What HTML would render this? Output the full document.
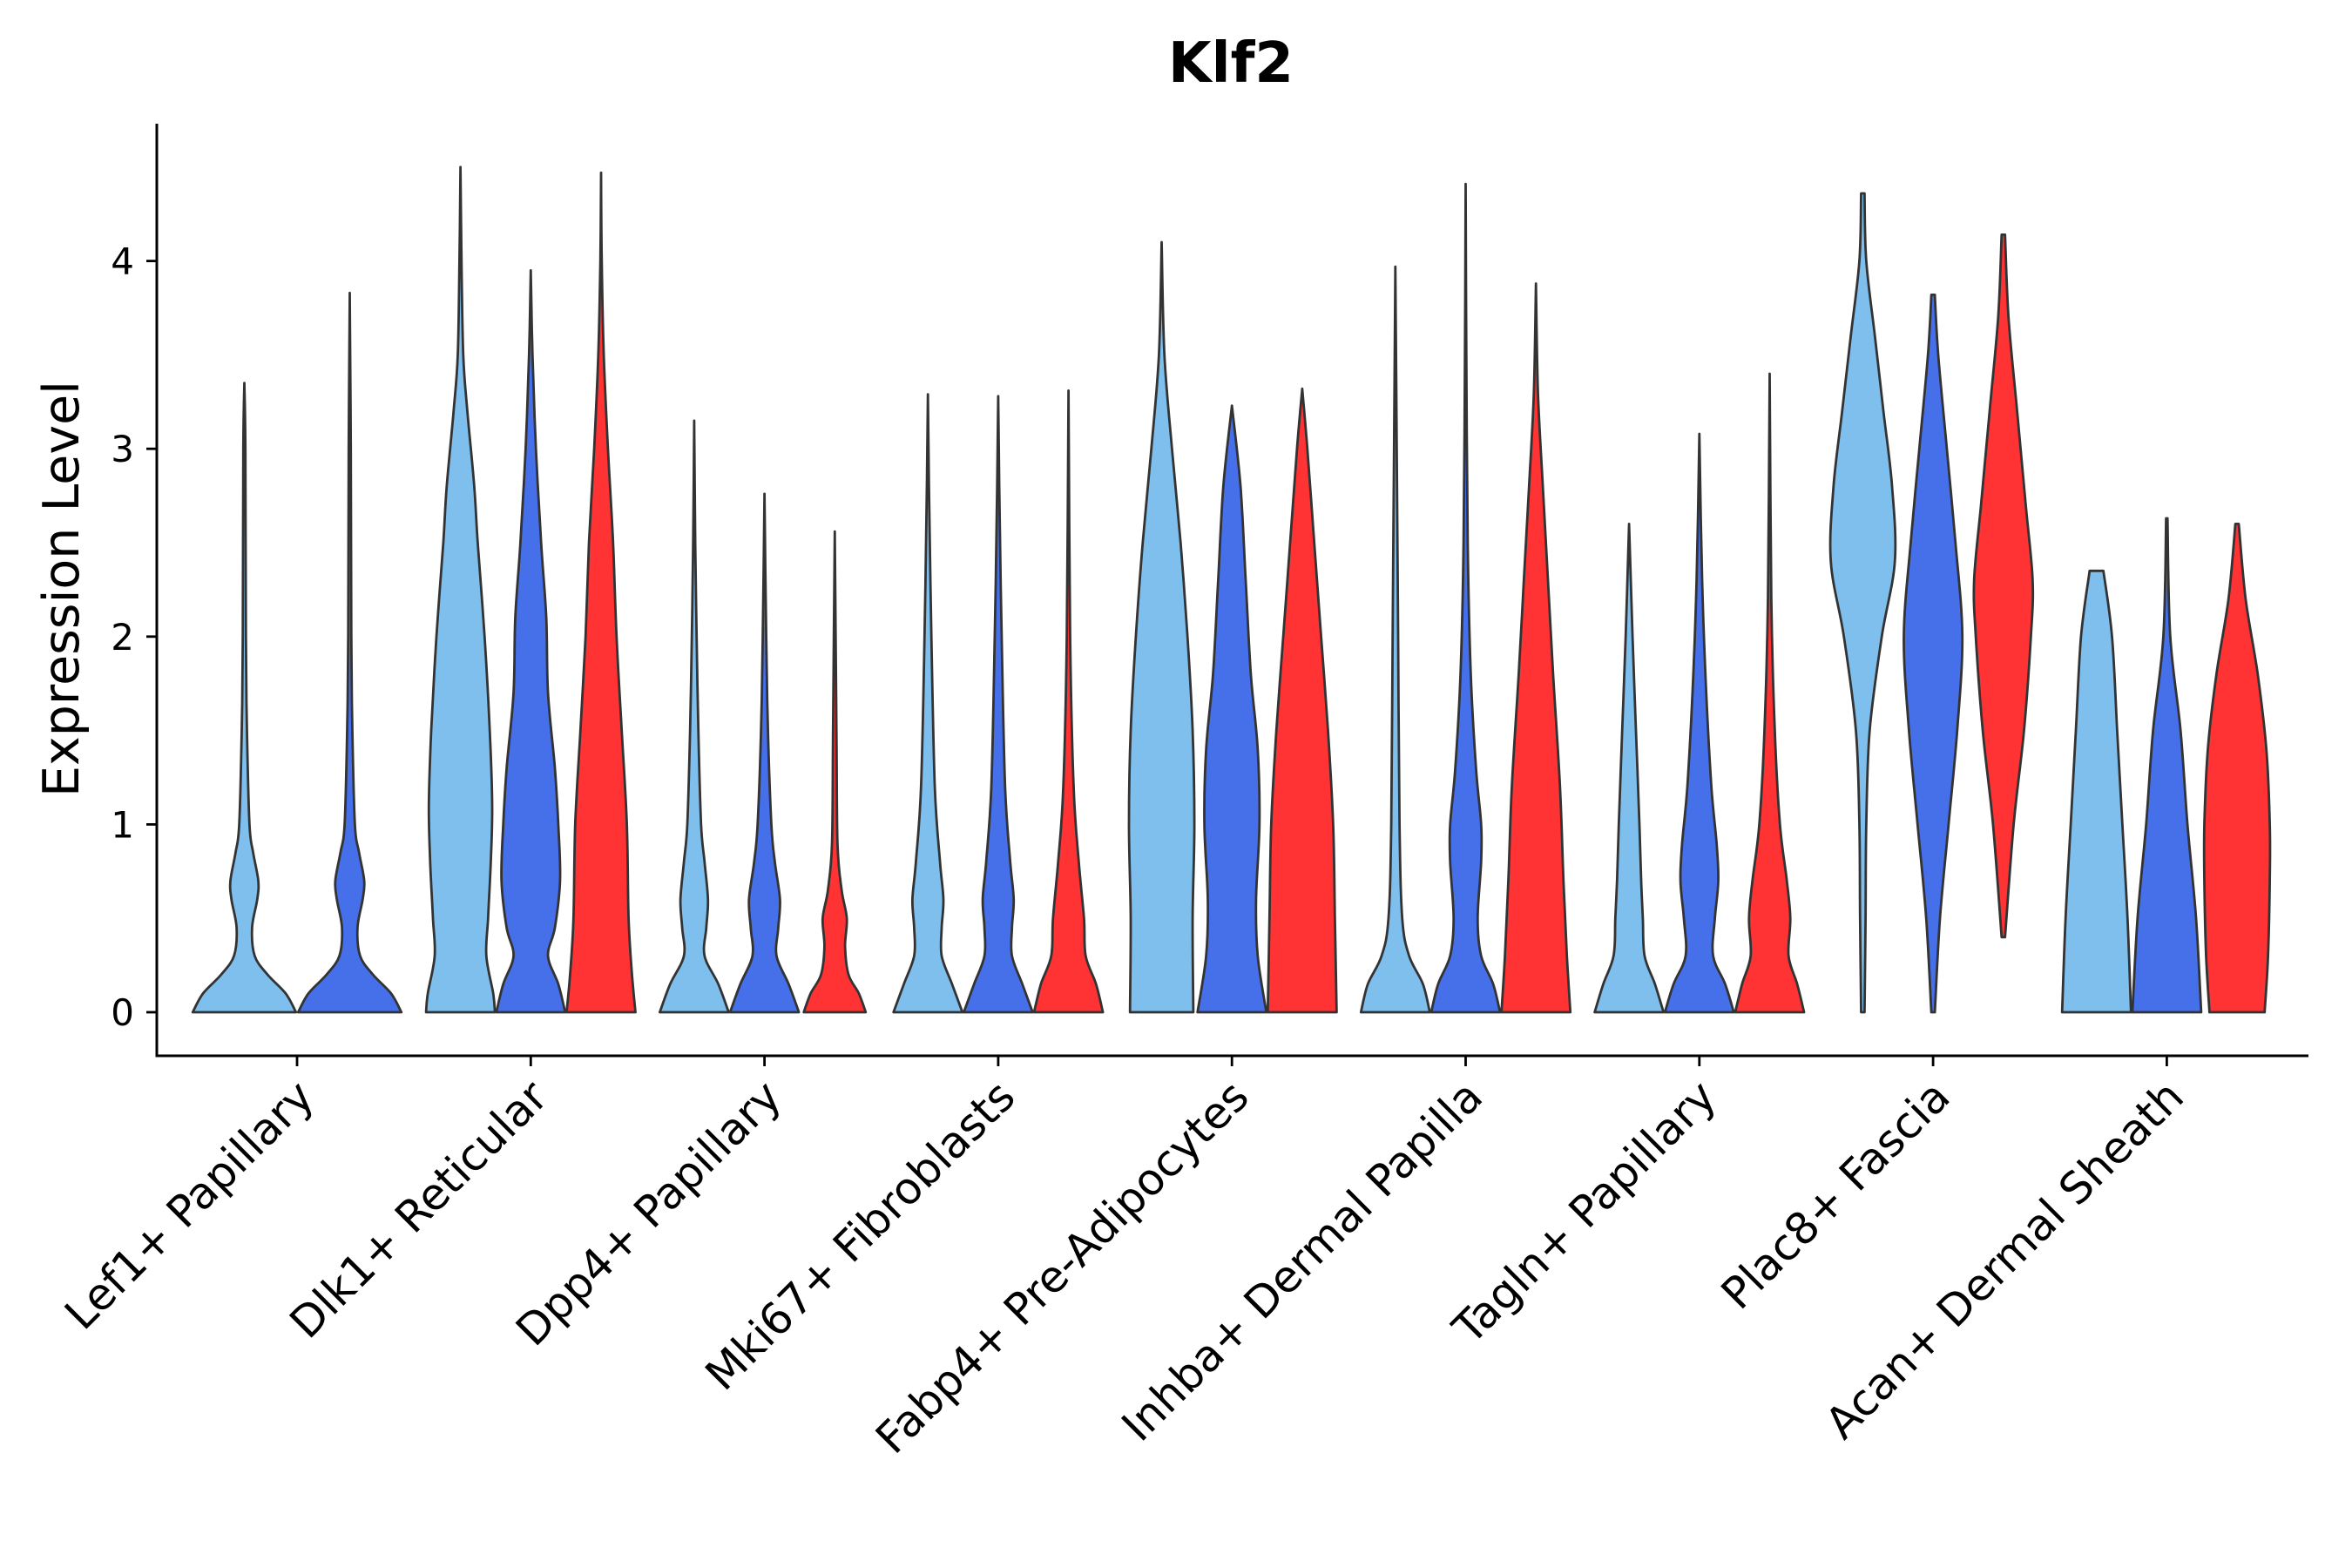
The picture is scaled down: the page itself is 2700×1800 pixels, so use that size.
<!DOCTYPE html>
<html><head><meta charset="utf-8"><style>
html,body{margin:0;padding:0;background:#fff;}
svg{display:block;font-family:"DejaVu Sans","Liberation Sans",sans-serif;}
</style></head><body>
<svg id="chart" width="2700" height="1800" viewBox="0 0 2700 1800" xmlns="http://www.w3.org/2000/svg">
<text x="1413" y="94" text-anchor="middle" font-size="64" font-weight="bold" fill="#000">Klf2</text>
<g id="plot"></g>
</svg>
<script>
const categories=["Lef1+ Papillary","Dlk1+ Reticular","Dpp4+ Papillary","Mki67+ Fibroblasts","Fabp4+ Pre-Adipocytes","Inhba+ Dermal Papilla","Tagln+ Papillary","Plac8+ Fascia","Acan+ Dermal Sheath"];
const groupCounts=[2,3,3,3,3,3,3,3,3];
const yTicks=[0,1,2,3,4];
const seriesColors=["#7fbfed","#4570ea","#ff3333"];
const violinY=[
[[0,0.1,0.2,0.3,0.45,0.6,0.7,0.85,1.0,1.5,2,3,3.35],[0,0.1,0.2,0.3,0.45,0.6,0.7,0.85,1.0,1.5,2,3,3.83]],
[[0,0.1,0.3,0.5,0.8,1.1,1.5,2,2.5,2.8,3.2,3.5,4,4.5],[0,0.15,0.3,0.45,0.7,1.0,1.3,1.7,2.1,2.5,3.0,3.5,3.95],[0,0.2,0.5,1.0,1.5,2.0,2.5,3.0,3.5,4,4.47]],
[[0,0.15,0.3,0.45,0.6,0.8,1.0,1.5,2.0,2.5,3.15],[0,0.15,0.3,0.45,0.6,0.8,1.0,1.5,2,2.76],[0,0.1,0.2,0.35,0.5,0.65,0.9,1.5,2.56]],
[[0,0.15,0.3,0.45,0.6,0.8,1.2,2,2.8,3.29],[0,0.15,0.3,0.45,0.6,0.8,1.2,2,2.8,3.28],[0,0.15,0.3,0.5,0.8,1.2,2,3.31]],
[[0,0.5,1.0,1.5,2.0,2.5,3.0,3.5,4.1],[0,0.3,0.6,1.0,1.4,1.8,2.3,2.8,3.23],[0,0.5,1.0,1.5,2.0,2.5,3.0,3.32]],
[[0,0.15,0.3,0.5,1,2,3,3.97],[0,0.15,0.3,0.5,0.8,1.0,1.3,1.8,2.5,3.5,4.41],[0,0.3,0.7,1.2,1.8,2.3,2.8,3.3,3.88]],
[[0,0.15,0.3,0.5,0.7,1,1.5,2,2.6],[0,0.15,0.3,0.5,0.7,0.9,1.2,1.7,2.3,3.08],[0,0.15,0.3,0.5,0.7,1,1.5,2.2,3.4]],
[[0,0.5,1,1.5,2,2.4,2.8,3.2,3.6,4.0,4.36],[0,0.5,1,1.5,2,2.5,3,3.5,3.82],[0.4,1,1.5,2,2.3,2.7,3.2,3.7,4.14]],
[[0,0.5,1,1.5,2,2.35],[0,0.5,1,1.5,2,2.63],[0,0.3,0.7,1.0,1.4,1.8,2.2,2.6]]
];
const violinW=[
[[1,0.8,0.45,0.2,0.15,0.25,0.27,0.17,0.1,0.05,0.03,0.02,0],[1,0.8,0.45,0.2,0.15,0.25,0.28,0.18,0.1,0.05,0.03,0.02,0]],
[[1,0.95,0.75,0.8,0.88,0.92,0.85,0.7,0.5,0.4,0.2,0.08,0.03,0],[1,0.8,0.5,0.7,0.85,0.8,0.7,0.5,0.45,0.3,0.15,0.05,0],[1,0.9,0.8,0.75,0.6,0.45,0.35,0.2,0.08,0.02,0]],
[[1,0.7,0.3,0.35,0.4,0.3,0.2,0.12,0.07,0.03,0],[1,0.7,0.35,0.4,0.45,0.3,0.2,0.1,0.05,0],[0.9,0.7,0.4,0.3,0.35,0.2,0.08,0.05,0]],
[[1,0.7,0.4,0.4,0.45,0.35,0.2,0.1,0.03,0],[1,0.7,0.4,0.4,0.45,0.35,0.2,0.1,0.03,0],[1,0.8,0.5,0.45,0.3,0.15,0.05,0]],
[[0.92,0.9,0.95,0.9,0.75,0.55,0.3,0.08,0],[1,0.75,0.7,0.8,0.75,0.55,0.4,0.25,0],[1,0.95,0.9,0.75,0.55,0.35,0.15,0]],
[[1,0.8,0.4,0.2,0.12,0.08,0.04,0],[1,0.8,0.45,0.35,0.45,0.45,0.3,0.15,0.06,0.02,0],[1,0.9,0.8,0.7,0.5,0.35,0.2,0.06,0]],
[[1,0.75,0.45,0.4,0.35,0.3,0.2,0.1,0],[1,0.75,0.4,0.45,0.55,0.5,0.35,0.2,0.08,0],[1,0.8,0.55,0.6,0.5,0.3,0.15,0.05,0]],
[[0.05,0.08,0.1,0.2,0.55,0.93,0.85,0.6,0.35,0.1,0.05],[0.05,0.2,0.45,0.7,0.85,0.65,0.4,0.15,0.05],[0.05,0.3,0.6,0.8,0.85,0.65,0.4,0.15,0.05]],
[[1,0.9,0.75,0.6,0.45,0.2],[1,0.85,0.6,0.4,0.1,0.02],[0.8,0.9,0.95,0.95,0.85,0.6,0.25,0.05]]
];
const NS="http://www.w3.org/2000/svg";
const X0=180,X1=2650,YB=1212,YT=142;
const yScale=v=>1162-v*215.6;
const xScale=i=>341+i*268.3;
const dodge=242;
const g=document.getElementById('plot');
function mk(t,a){const e=document.createElementNS(NS,t);for(const k in a)e.setAttribute(k,a[k]);g.appendChild(e);return e;}
function smooth(pts){let d="";for(let i=0;i<pts.length-1;i++){const p0=pts[Math.max(0,i-1)],p1=pts[i],p2=pts[i+1],p3=pts[Math.min(pts.length-1,i+2)];
const c1=[p1[0]+(p2[0]-p0[0])/6,p1[1]+(p2[1]-p0[1])/6],c2=[p2[0]-(p3[0]-p1[0])/6,p2[1]-(p3[1]-p1[1])/6];
d+=` C${c1[0].toFixed(1)},${c1[1].toFixed(1)} ${c2[0].toFixed(1)},${c2[1].toFixed(1)} ${p2[0].toFixed(1)},${p2[1].toFixed(1)}`;}return d;}
categories.forEach((c,i)=>{
  const n=groupCounts[i],slot=dodge/n,half=slot/2*0.98;
  for(let j=0;j<n;j++){
    const cx=xScale(i)-dodge/2+slot*(j+0.5);
    const ys=violinY[i][j],ws=violinW[i][j];
    const right=ys.map((y,k)=>[cx+ws[k]*half,yScale(y)]);
    const left=ys.map((y,k)=>[cx-ws[k]*half,yScale(y)]).reverse();
    let d=`M${left[left.length-1][0].toFixed(1)},${left[left.length-1][1].toFixed(1)} L${right[0][0].toFixed(1)},${right[0][1].toFixed(1)}`+smooth(right)+` L${left[0][0].toFixed(1)},${left[0][1].toFixed(1)}`+smooth(left)+"Z";
    const p=mk('path',{d:d,fill:seriesColors[j],stroke:"#333",'stroke-width':2.8,'stroke-linejoin':'round'});
    
    
  }
  const t=mk('line',{x1:xScale(i),x2:xScale(i),y1:YB,y2:YB+12,stroke:"#000",'stroke-width':2.8});
  
  
  const tx=xScale(i)+22,ty=YB+50;
  const lb=mk('text',{x:tx,y:ty,'text-anchor':'end','font-size':50,fill:'#000',transform:`rotate(-45 ${tx} ${ty})`});
  lb.textContent=c;
  
  
});
yTicks.forEach(v=>{
  const t=mk('line',{x1:X0-12,x2:X0,y1:yScale(v),y2:yScale(v),stroke:"#000",'stroke-width':2.8});
  
  
  const l=mk('text',{x:X0-26,y:yScale(v)+15,'text-anchor':'end','font-size':42,fill:'#000'});
  l.textContent=v;
  
  
});
const ax=mk('path',{d:`M${X0},${YT} L${X0},${YB} L${X1},${YB}`,fill:'none',stroke:'#000','stroke-width':3});


const yt=mk('text',{x:90,y:676,'text-anchor':'middle','font-size':57,fill:'#000',transform:'rotate(-90 90 676)'});
yt.textContent="Expression Level";


</script>
</body></html>
